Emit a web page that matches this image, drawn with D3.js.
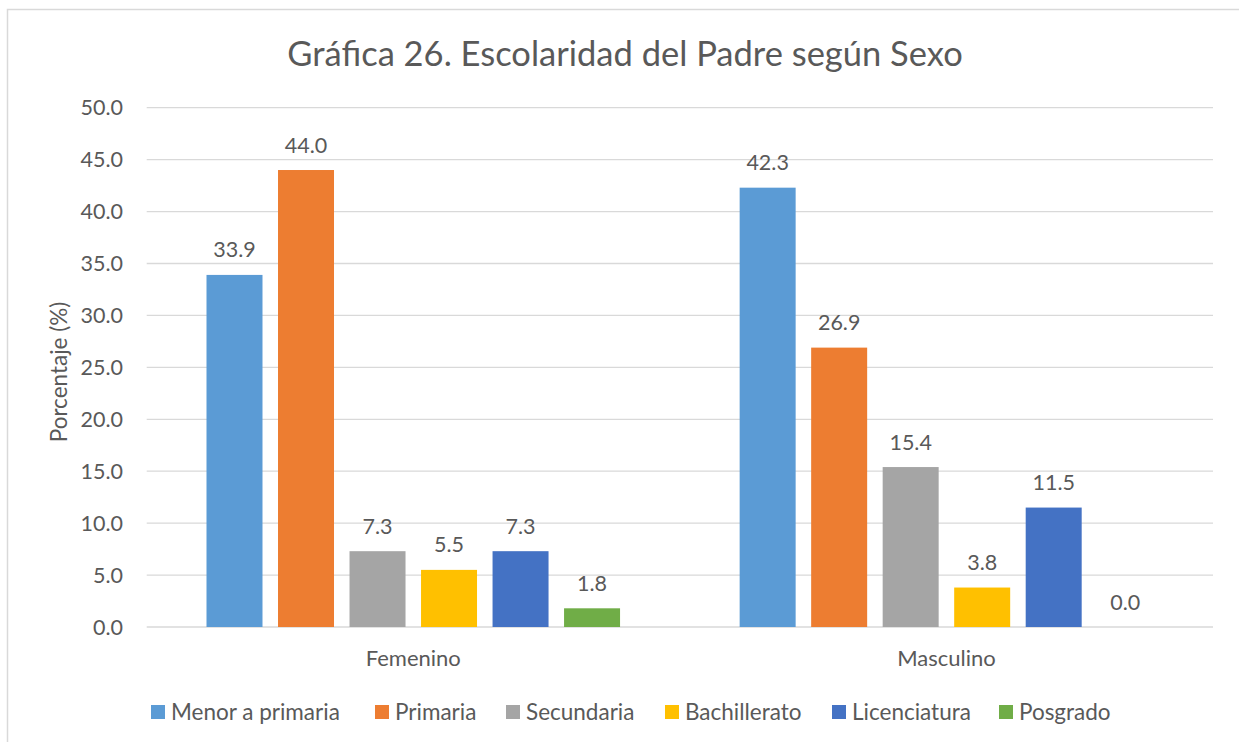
<!DOCTYPE html>
<html>
<head>
<meta charset="utf-8">
<script src="https://cdn.jsdelivr.net/npm/d3@7.9.0/dist/d3.min.js"></script>
<style>
  html, body { margin: 0; padding: 0; background: #fff; }
  svg text { font-family: Lato, "Open Sans", sans-serif; fill: #595959; }
</style>
</head>
<body>
<div id="chart"></div>
<script>
const groups = ["Femenino", "Masculino"];
const series = ["Menor a primaria", "Primaria", "Secundaria", "Bachillerato", "Licenciatura", "Posgrado"];
const colors = ["#5B9BD5", "#ED7D31", "#A5A5A5", "#FFC000", "#4472C4", "#70AD47"];
const femenino = [33.9, 44.0, 7.3, 5.5, 7.3, 1.8];
const masculino = [42.3, 26.9, 15.4, 3.8, 11.5, 0.0];
const yTicks = [0, 5, 10, 15, 20, 25, 30, 35, 40, 45, 50];

const width = 1239;
const height = 742;
const plot = { left: 146.7, right: 1213, top: 107.7, bottom: 627 };

const svg = d3.select('#chart')
    .append('svg')
    .attr('width', width)
    .attr('height', height);

// chart border (runs off the right/bottom edge like in the source)
svg.append('rect')
    .attr('x', 7.5).attr('y', 9.5)
    .attr('width', 1260).attr('height', 760)
    .attr('fill', 'none')
    .attr('stroke', '#D9D9D9')
    .attr('stroke-width', 1.5);

const x0 = d3.scaleBand().domain(groups).range([plot.left, plot.right]);
const x1 = d3.scaleBand().domain(series)
    .range([59.8, x0.bandwidth() - 59.8])
    .paddingInner(0.217);
const y = d3.scaleLinear().domain([0, 50]).range([plot.bottom, plot.top]);

// gridlines
svg.append('g')
    .selectAll('line')
    .data(yTicks)
    .join('line')
    .attr('x1', plot.left).attr('x2', plot.right)
    .attr('y1', d => y(d)).attr('y2', d => y(d))
    .attr('stroke', '#D9D9D9')
    .attr('stroke-width', 1.3);

// y tick labels
svg.append('g')
    .selectAll('text')
    .data(yTicks)
    .join('text')
    .attr('x', 123)
    .attr('y', d => y(d))
    .attr('dy', '0.36em')
    .attr('text-anchor', 'end')
    .style('font-size', '21.5px')
    .text(d => d.toFixed(1));

const rows = groups.map((g, i) => ({ group: g, values: i === 0 ? femenino : masculino }));

const gGroups = svg.append('g')
    .selectAll('g')
    .data(rows)
    .join('g')
    .attr('transform', d => `translate(${x0(d.group)},0)`);

gGroups.selectAll('rect')
    .data(d => d.values.map((v, i) => ({ key: series[i], value: v, color: colors[i] })))
    .join('rect')
    .attr('x', d => x1(d.key))
    .attr('y', d => y(d.value))
    .attr('width', x1.bandwidth())
    .attr('height', d => y(0) - y(d.value))
    .attr('fill', d => d.color);

gGroups.selectAll('text')
    .data(d => d.values.map((v, i) => ({ key: series[i], value: v })))
    .join('text')
    .attr('x', d => x1(d.key) + x1.bandwidth() / 2)
    .attr('y', d => y(d.value) - 17.5)
    .attr('text-anchor', 'middle')
    .style('font-size', '21.5px')
    .text(d => d.value.toFixed(1));

// category labels
svg.append('g')
    .selectAll('text')
    .data(groups)
    .join('text')
    .attr('x', d => x0(d) + x0.bandwidth() / 2)
    .attr('y', 666)
    .attr('text-anchor', 'middle')
    .style('font-size', '22px')
    .text(d => d);

// title
svg.append('text')
    .attr('x', 625)
    .attr('y', 66)
    .attr('text-anchor', 'middle')
    .style('font-size', '34.5px')
    .text('Gráfica 26. Escolaridad del Padre según Sexo');

// y axis title
svg.append('text')
    .attr('transform', 'translate(67,372) rotate(-90)')
    .attr('text-anchor', 'middle')
    .style('font-size', '22.5px')
    .text('Porcentaje (%)');

// legend
const legendX = [151, 375, 506, 665, 832, 999];
const legend = svg.append('g')
    .selectAll('g')
    .data(series)
    .join('g')
    .attr('transform', (d, i) => `translate(${legendX[i]},705)`);
legend.append('rect')
    .attr('width', 14).attr('height', 14)
    .attr('fill', (d, i) => colors[i]);
legend.append('text')
    .attr('x', 20)
    .attr('y', 7)
    .attr('dy', '0.36em')
    .style('font-size', '22.5px')
    .text(d => d);
</script>
</body>
</html>
